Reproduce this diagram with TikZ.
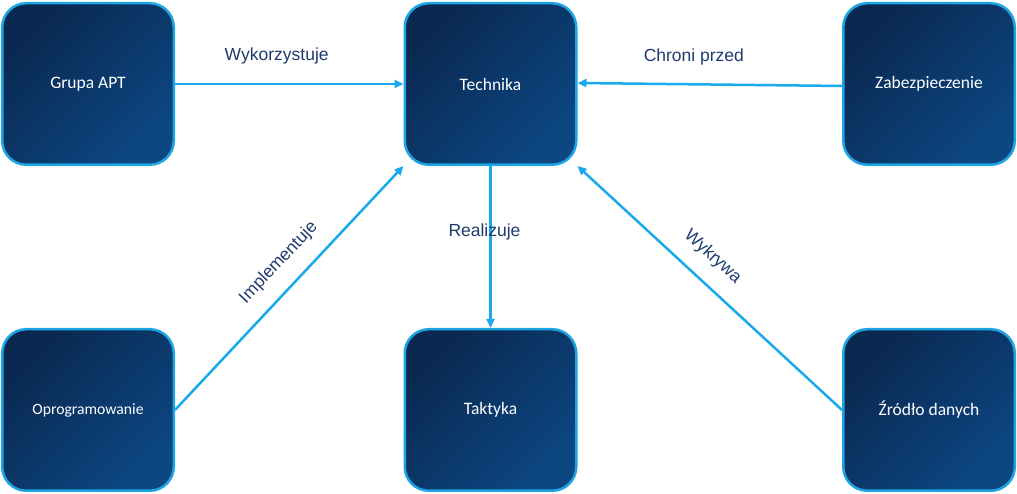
\documentclass[tikz,border=0pt]{standalone}
\usepackage{fontspec}
\setmainfont{Liberation Sans}
\newfontfamily\boxfont{Carlito}
\usetikzlibrary{arrows.meta}
\definecolor{bordc}{HTML}{1DA5E3}
\definecolor{arrc}{HTML}{19A9EC}
\definecolor{lblc}{HTML}{1F3B6E}
\definecolor{topc}{HTML}{0A2850}
\definecolor{botc}{HTML}{0C4782}
\begin{document}
\begin{tikzpicture}[x=1pt,y=1pt]
\tikzset{
 ent/.style={draw=bordc, line width=2.5pt, rounded corners=24pt,
   minimum width=171.5pt, minimum height=161.5pt, inner sep=0pt,
   top color=topc, bottom color=botc, shading angle=45,
   text=white, font=\boxfont\fontsize{17.5}{20}\selectfont},
 rel/.style={draw=arrc, line width=2.5pt, -{Triangle[length=9pt,width=8pt]}},
 lbl/.style={text=lblc, font=\fontsize{17.5}{20}\selectfont, inner sep=0pt},
}
\useasboundingbox (0,0) rectangle (1017,494);
\node[ent] (grupa) at (88,410) {Grupa APT};
\node[ent] (tech) at (490.5,410) {Technika};
\node[ent] (zab) at (929,410) {Zabezpieczenie};
\node[ent, font=\boxfont\fontsize{15.7}{18}\selectfont] (opr) at (88,84) {Oprogramowanie};
\node[ent] (takt) at (490.5,84) {Taktyka};
\node[ent] (zrod) at (929,84) {Źródło danych};

\draw[rel] (grupa.east) -- node[lbl, pos=0.445, yshift=28pt] {Wykorzystuje} (tech.west);
\draw[rel] ([yshift=-2pt]zab.west) -- node[lbl, pos=0.56, yshift=27pt] {Chroni przed} ([yshift=1pt]tech.east);
\draw[rel] (tech.south) -- node[lbl, pos=0.41, xshift=-6pt] {Realizuje} (takt.north);
\draw[rel] (opr.east) -- node[lbl, sloped, pos=0.534, above=15.5pt] {Implementuje} (tech.south west);
\draw[rel] (zrod.west) -- node[lbl, sloped, pos=0.553, above=15.5pt] {Wykrywa} (tech.south east);
\end{tikzpicture}
\end{document}
